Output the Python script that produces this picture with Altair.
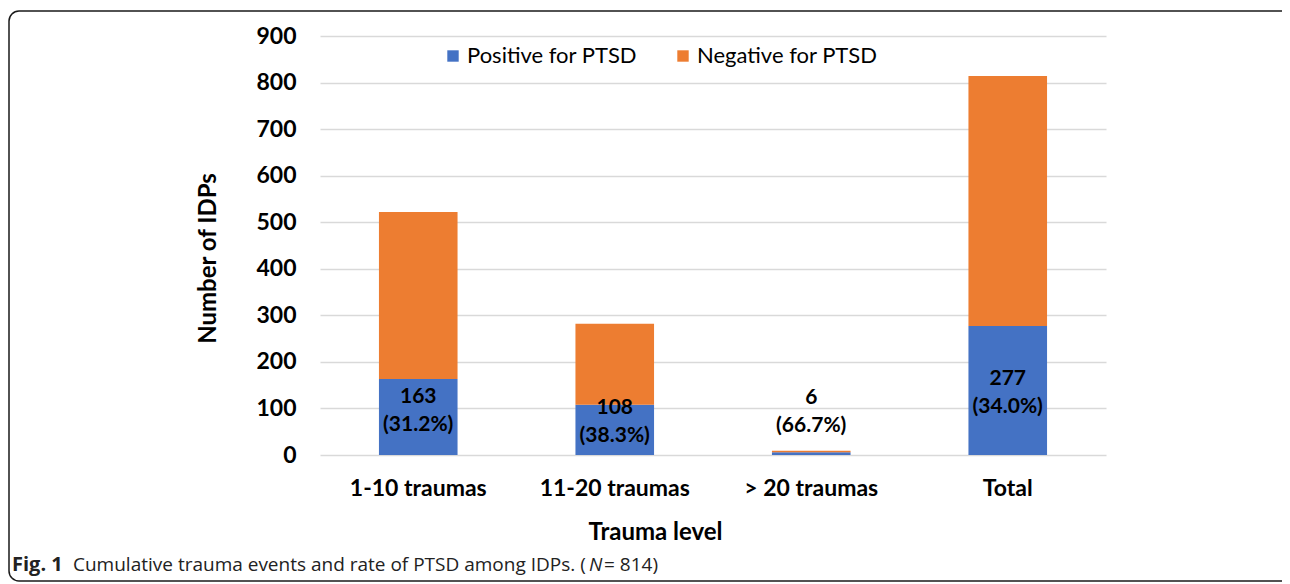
import altair as alt
import pandas as pd

categories = ["1-10 traumas", "11-20 traumas", "> 20 traumas", "Total"]
positive = [163, 108, 6, 277]
negative = [359, 174, 3, 537]
percent = ["31.2%", "38.3%", "66.7%", "34.0%"]
label_at = [125, 102, 122, 164]
series = ["Positive for PTSD", "Negative for PTSD"]
colors = ["#4472C4", "#ED7D31"]
y_ticks = [0, 100, 200, 300, 400, 500, 600, 700, 800, 900]
caption_bold = "Fig. 1"
caption_text = "Cumulative trauma events and rate of PTSD among IDPs. ("
caption_n = "N"
caption_end = "= 814)"

rows = []
for c, p, n in zip(categories, positive, negative):
    rows.append({"level": c, "status": series[0], "count": p, "ord": 0})
    rows.append({"level": c, "status": series[1], "count": n, "ord": 1})
bars_df = pd.DataFrame(rows)

labels_df = pd.DataFrame({
    "level": categories,
    "pos": label_at,
    "label": [f"{p}\n({q})" for p, q in zip(positive, percent)],
})

FONT = "Lato"
W, H = 786, 419

x_enc = alt.X(
    "level:N",
    sort=categories,
    scale=alt.Scale(paddingInner=0.6, paddingOuter=0.3),
    axis=alt.Axis(
        title="Trauma level",
        labelAngle=0,
        ticks=False,
        domain=False,
        labelPadding=22,
        labelFontSize=23,
        titleFontSize=24,
        titleX=335,
        titleY=77,
        titleAlign="center",
        titleBaseline="middle",
    ),
)

bars = alt.Chart(bars_df).mark_bar().encode(
    x=x_enc,
    y=alt.Y(
        "count:Q",
        stack="zero",
        scale=alt.Scale(domain=[0, 900], nice=False),
        axis=alt.Axis(
            title="Number of IDPs",
            values=y_ticks,
            ticks=False,
            domain=False,
            labelPadding=24,
            labelFontSize=23,
            titleFontSize=24,
            grid=True,
            gridColor="#D9D9D9",
            gridWidth=1.5,
            titleAngle=270,
            titleX=-112,
            titleY=222,
            titleAlign="center",
            titleBaseline="middle",
        ),
    ),
    color=alt.Color(
        "status:N",
        scale=alt.Scale(domain=series, range=colors),
        sort=series,
        legend=alt.Legend(
            title=None,
            orient="none",
            direction="horizontal",
            legendX=122,
            legendY=9,
            symbolType="square",
            symbolSize=130,
            symbolStrokeWidth=0,
            labelFont=FONT,
            labelFontSize=22,
            labelFontWeight="normal",
            labelColor="black",
            labelOffset=3,
            labelLimit=0,
            columnPadding=34,
        ),
    ),
    order=alt.Order("ord:Q", sort="ascending"),
)

texts = alt.Chart(labels_df).mark_text(
    font=FONT, fontSize=21, fontWeight="bold", color="black",
    lineBreak="\n", lineHeight=28, baseline="middle", align="center",
).encode(
    x=alt.X("level:N", sort=categories),
    y=alt.Y("pos:Q"),
    text="label:N",
)

frame = alt.Chart(pd.DataFrame({"k": [0]})).mark_rect(
    fill=None, stroke="#1a1a1a", strokeWidth=1.5, cornerRadius=10
).encode(
    x=alt.value(-311), x2=alt.value(985), y=alt.value(-25), y2=alt.value(545)
)

cap1 = alt.Chart(pd.DataFrame({"t": [caption_bold]})).mark_text(
    font="Open Sans", fontSize=20, fontWeight="bold", align="left", baseline="middle", color="#222"
).encode(x=alt.value(-308), y=alt.value(529), text="t:N")

cap2 = alt.Chart(pd.DataFrame({"t": [caption_text]})).mark_text(
    font="Open Sans", fontSize=19, align="left", baseline="middle", color="#222"
).encode(x=alt.value(-247), y=alt.value(529), text="t:N")

cap3 = alt.Chart(pd.DataFrame({"t": [caption_n]})).mark_text(
    font="Open Sans", fontSize=19, fontStyle="italic", align="left", baseline="middle", color="#222"
).encode(x=alt.value(269), y=alt.value(529), text="t:N")

cap4 = alt.Chart(pd.DataFrame({"t": [caption_end]})).mark_text(
    font="Open Sans", fontSize=19, align="left", baseline="middle", color="#222"
).encode(x=alt.value(284), y=alt.value(529), text="t:N")

chart = alt.layer(bars, texts, frame, cap1, cap2, cap3, cap4).properties(
    width=W,
    height=H,
    padding={"left": 312, "top": 28, "right": 176, "bottom": 129},
    autosize=alt.AutoSizeParams(type="none"),
).configure_view(stroke=None).configure_axis(
    labelFont=FONT,
    titleFont=FONT,
    labelFontWeight="bold",
    titleFontWeight="bold",
    labelColor="black",
    titleColor="black",
)

chart.save("out.html", embed_options={"renderer": "svg", "actions": False})
